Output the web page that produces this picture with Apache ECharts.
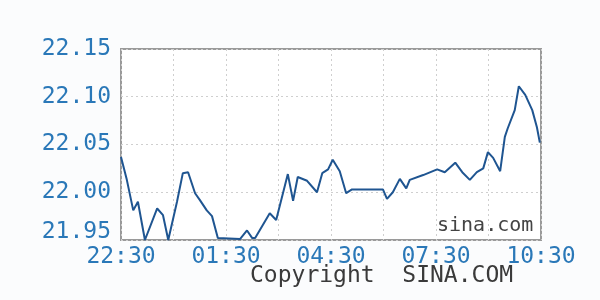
<!DOCTYPE html>
<html>
<head>
<meta charset="utf-8">
<script src="https://cdn.jsdelivr.net/npm/echarts@6/dist/echarts.min.js"></script>
<style>
html,body{margin:0;padding:0;background:#fbfcfd;}
#c{width:600px;height:300px;}
</style>
</head>
<body>
<div id="c"></div>
<script>
// Session runs from 22:30 to 10:30 (minutes counted from 22:30)
var startTime = '22:30';
var times = ['22:30','22:40','22:51','22:59','23:11','23:32','23:42','23:51','00:06','00:16','00:25','00:37','00:45','00:57','01:06','01:16','01:54','02:06','02:15','02:20','02:45','02:56','03:16','03:25','03:33','03:49','04:06','04:15','04:25','04:33','04:45','04:56','05:06','05:59','06:06','06:16','06:28','06:39','06:45','07:08','07:32','07:45','08:03','08:15','08:28','08:40','08:51','08:59','09:08','09:20','09:28','09:33','09:45','09:52','10:03','10:15','10:23','10:28'];
var prices = [22.037,22.013,21.981,21.990,21.950,21.983,21.976,21.950,21.990,22.020,22.021,21.999,21.992,21.981,21.975,21.952,21.951,21.960,21.952,21.952,21.978,21.971,22.019,21.991,22.016,22.012,22.000,22.020,22.024,22.034,22.022,21.999,22.003,22.003,21.993,22.000,22.014,22.004,22.013,22.018,22.024,22.021,22.031,22.021,22.013,22.021,22.025,22.042,22.036,22.022,22.058,22.067,22.086,22.111,22.102,22.086,22.068,22.052];
var xTickLabels = ['22:30','01:30','04:30','07:30','10:30'];
var yTickLabels = ['21.95','22.00','22.05','22.10','22.15'];

function toMin(t){
  var p = t.split(':'), s = startTime.split(':');
  var m = (+p[0]*60 + +p[1]) - (+s[0]*60 + +s[1]);
  if (m < 0) m += 1440;
  return m;
}
var data = times.map(function(t,i){ return [toMin(t), prices[i]]; });
var xTicksMin = xTickLabels.map(toMin);

var chart = echarts.init(document.getElementById('c'), null, {renderer:'canvas'});
var mono = 'DejaVu Sans Mono';
chart.setOption({
  backgroundColor: '#fbfcfd',
  animation: false,
  grid: {left:121, right:59, top:49, bottom:60, show:true, backgroundColor:'#ffffff', borderColor:'#9a9a9a', borderWidth:2},
  xAxis: {
    type:'value', min:0, max:720, interval:90,
    axisLine:{show:false}, axisTick:{show:false},
    splitLine:{show:true, lineStyle:{color:'#cfcfcf', type:[2,3], width:1}},
    axisLabel:{
      margin:6, fontFamily:mono, fontSize:23, color:'#2a78b8',
      formatter:function(v){
        var i = xTicksMin.indexOf(Math.round(v));
        return i >= 0 && (Math.round(v) % 180 === 0) ? xTickLabels[i] : '';
      }
    }
  },
  yAxis: {
    type:'value', min:21.95, max:22.15, interval:0.05,
    axisLine:{show:false}, axisTick:{show:false},
    splitLine:{show:true, lineStyle:{color:'#cfcfcf', type:[2,3], width:1}},
    axisLabel:{
      margin:10, fontFamily:mono, fontSize:23, color:'#2a78b8',
      formatter:function(v){
        var s = v.toFixed(2);
        if (yTickLabels.indexOf(s) < 0) return '';
        return s === yTickLabels[0] ? '{lo|' + s + '}' : s;
      },
      rich:{lo:{fontFamily:mono, fontSize:23, color:'#2a78b8', padding:[0,0,16,0]}}
    }
  },
  graphic: [
    {type:'text', left:437, top:216, style:{text:'sina.com', font:'20px "DejaVu Sans Mono"', fill:'#444444'}, z:10},
    {type:'text', left:250, top:265, style:{text:'Copyright  SINA.COM', font:'23px "DejaVu Sans Mono"', fill:'#3a3a3a'}}
  ],
  series: [{
    type:'line', data:data, showSymbol:false, smooth:false,
    lineStyle:{color:'#1f5591', width:2}
  }]
});
</script>
</body>
</html>
